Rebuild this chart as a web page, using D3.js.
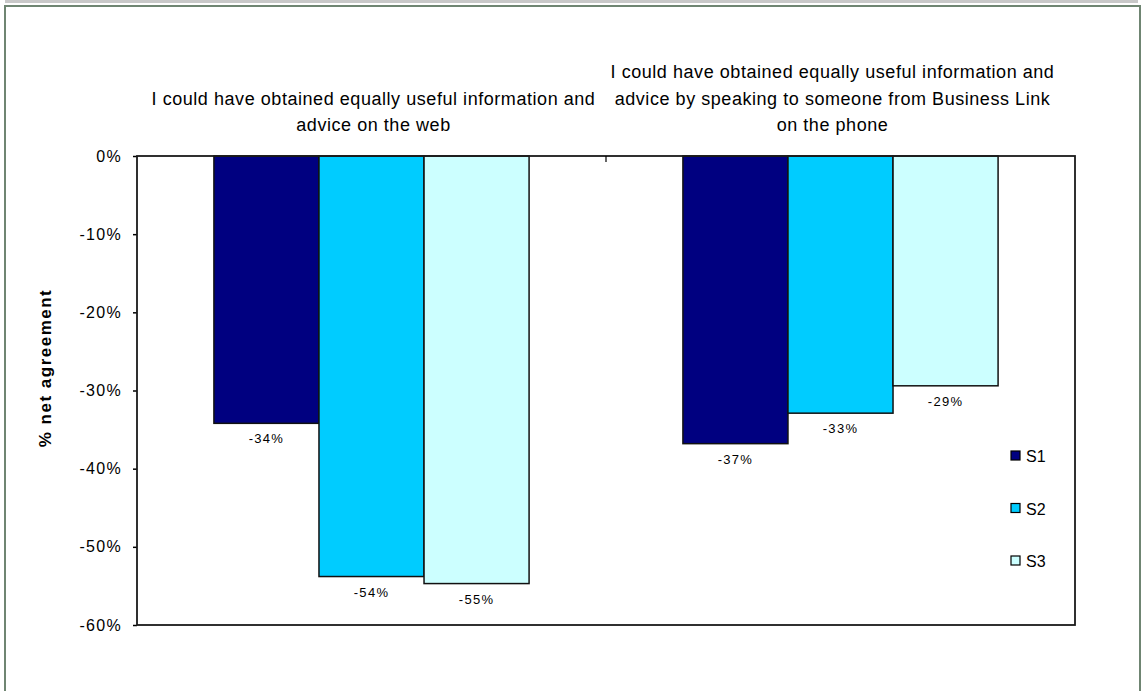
<!DOCTYPE html>
<html>
<head>
<meta charset="utf-8">
<script src="https://cdn.jsdelivr.net/npm/d3@7"></script>
<style>
  html, body { margin: 0; padding: 0; background: #fff; }
  svg { display: block; }
  text { font-family: "Liberation Sans", Arial, sans-serif; fill: #000; }
</style>
</head>
<body>
<svg id="chart" width="1142" height="691"></svg>
<script>
// ---- data ----
const categories = [
  ["I could have obtained equally useful information and", "advice on the web"],
  ["I could have obtained equally useful information and", "advice by speaking to someone from Business Link", "on the phone"]
];
const categoryKeys = ["web", "phone"];
const seriesNames = ["S1", "S2", "S3"];
const seriesColors = ["#000080", "#00CCFF", "#CCFFFF"];
const valuesWeb = [-0.342, -0.538, -0.547];
const valuesPhone = [-0.368, -0.329, -0.294];
const valueLabelsWeb = ["-34%", "-54%", "-55%"];
const valueLabelsPhone = ["-37%", "-33%", "-29%"];
const yTicks = [0, -0.1, -0.2, -0.3, -0.4, -0.5, -0.6];
const yTickLabels = ["0%", "-10%", "-20%", "-30%", "-40%", "-50%", "-60%"];
const yTitle = "% net agreement";

const table = categoryKeys.map((k, i) => ({
  key: k,
  title: categories[i],
  values: i === 0 ? valuesWeb : valuesPhone,
  labels: i === 0 ? valueLabelsWeb : valueLabelsPhone
}));

// ---- layout ----
const svg = d3.select("#chart");
const plot = { left: 137, right: 1075, top: 156, bottom: 625 };

// outer chrome
svg.append("rect").attr("x", 5).attr("y", 0).attr("width", 1133).attr("height", 3).attr("fill", "#c8c8c8");
svg.append("path")
  .attr("d", "M5,700 L5,6 L1140,6 L1140,700")
  .attr("fill", "none").attr("stroke", "#6f8572").attr("stroke-width", 2);

const x0 = d3.scaleBand().domain(categoryKeys).range([plot.left, plot.right]).paddingInner(0).paddingOuter(0);
const groupFrac = 0.672;
const gOff = x0.bandwidth() * (1 - groupFrac) / 2;
const x1 = d3.scaleBand().domain(seriesNames).range([gOff, x0.bandwidth() - gOff]).padding(0);
const y = d3.scaleLinear().domain([-0.6, 0]).range([plot.bottom, plot.top]);
const color = d3.scaleOrdinal().domain(seriesNames).range(seriesColors);

// y axis
const yAxis = d3.axisLeft(y).tickValues(yTicks).tickSize(4).tickPadding(11)
  .tickFormat((d, i) => yTickLabels[i]);
const ya = svg.append("g").attr("transform", `translate(${plot.left},0)`).call(yAxis);
ya.select(".domain").remove();
ya.selectAll(".tick line").attr("stroke", "#000").attr("stroke-width", 1.5);
ya.selectAll(".tick text")
  .style("font-family", '"Liberation Sans", Arial, sans-serif')
  .style("font-size", "16px").style("letter-spacing", "1.3px").attr("fill", "#000");

// bars
const groups = svg.append("g").selectAll("g").data(table).join("g")
  .attr("transform", d => `translate(${x0(d.key)},0)`);

groups.selectAll("rect").data(d => d.values.map((v, i) => ({ s: seriesNames[i], v }))).join("rect")
  .attr("x", d => x1(d.s))
  .attr("y", y(0))
  .attr("width", x1.bandwidth())
  .attr("height", d => y(d.v) - y(0))
  .attr("fill", d => color(d.s))
  .attr("stroke", "#111").attr("stroke-width", 1.5);

groups.selectAll("text.vl").data(d => d.values.map((v, i) => ({ s: seriesNames[i], v, l: d.labels[i] }))).join("text")
  .attr("class", "vl")
  .attr("x", d => x1(d.s) + x1.bandwidth() / 2)
  .attr("y", d => y(d.v) + 20)
  .attr("text-anchor", "middle")
  .style("font-size", "13px").style("letter-spacing", "1.3px")
  .text(d => d.l);

// plot border (top axis, right, bottom, left)
svg.append("rect")
  .attr("x", plot.left).attr("y", plot.top)
  .attr("width", plot.right - plot.left).attr("height", plot.bottom - plot.top)
  .attr("fill", "none").attr("stroke", "#1a1a1a").attr("stroke-width", 1.8);

// category tick (boundary between groups)
svg.append("line")
  .attr("x1", x0("phone")).attr("x2", x0("phone"))
  .attr("y1", plot.top).attr("y2", plot.top + 6)
  .attr("stroke", "#000").attr("stroke-width", 1.2);

// category titles
const lineH = 26.5;
const titles = svg.append("g").selectAll("text").data(table).join("text")
  .attr("text-anchor", "middle")
  .style("font-size", "18px").style("letter-spacing", "0.55px");
titles.each(function(d) {
  const n = d.title.length;
  const cx = x0(d.key) + x0.bandwidth() / 2 + (d.key === "phone" ? -8 : 2);
  d3.select(this).selectAll("tspan").data(d.title).join("tspan")
    .attr("x", cx)
    .attr("y", (t, i) => 131 - (n - 1 - i) * lineH)
    .text(t => t);
});

// y axis title
svg.append("text")
  .attr("transform", `translate(51,${368}) rotate(-90)`)
  .attr("text-anchor", "middle")
  .style("font-size", "17px").style("font-weight", "bold").style("letter-spacing", "1.5px")
  .text(yTitle);

// legend
const legend = svg.append("g").selectAll("g").data(seriesNames).join("g")
  .attr("transform", (d, i) => `translate(1011,${456 + i * 52.5})`);
legend.append("rect").attr("x", 0).attr("y", -5).attr("width", 9).attr("height", 9)
  .attr("fill", d => color(d)).attr("stroke", "#000").attr("stroke-width", 1.2);
legend.append("text").attr("x", 15).attr("y", 6)
  .style("font-size", "16px").text(d => d);
</script>
</body>
</html>
